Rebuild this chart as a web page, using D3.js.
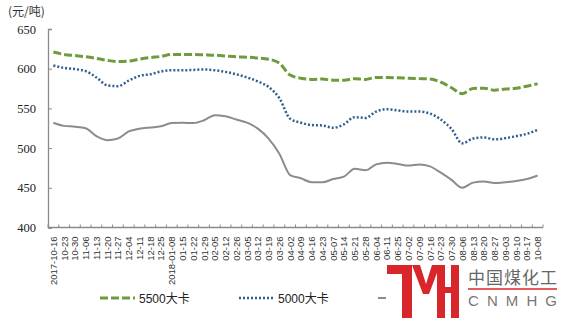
<!DOCTYPE html>
<html>
<head>
<meta charset="utf-8">
<script src="https://cdn.jsdelivr.net/npm/d3@7"></script>
<style>
  body { margin: 0; background: #fff; }
  svg { display: block; }
</style>
</head>
<body>
<div id="chart"></div>
<script>
// weekly dates
const dates = ["2017-10-16","10-23","10-30","11-06","11-13","11-20","11-27","12-04","12-11","12-18","12-25",
  "2018-01-08","01-15","01-22","01-29","02-05","02-12","02-26","03-05","03-12","03-19","03-26",
  "04-02","04-09","04-16","04-23","05-07","05-14","05-21","05-28","06-04","06-11","06-25",
  "07-02","07-09","07-16","07-23","07-30","08-06","08-13","08-20","08-27","09-03","09-10","09-17","10-08"];

const s5500 = [621,618,616.5,615,613,610.5,609,609.5,612,614,615.5,618,618,618,617.5,617,616,615,614.5,613.5,612,607,
  592,588,586.5,587,585.5,585.5,587.5,586.5,589,589,588.5,588,587.5,587,583,576,568.5,575,575.5,573,574.5,575.5,578,581];
const s5000 = [604,601,599.5,597,589,579,578,585,591,593,596.5,598,598,598.5,599,598,596,593,589,584,577,563,
  537,532,529,528.5,525.5,530,539,538,546,549,547.5,546,546,543.5,536,524,506,512,513.5,511,512.5,515,518,523];
const s4500 = [532,528,527,525,515,510,512,521,524.5,526,527.5,531.5,532,531.5,535,541.5,540,536,532,524.5,512,493,
  466,462,457,457,461,464,474,472,479.5,481.5,480,478,479.5,477,469,460,450,456.5,458,456,457,458.5,461,465.5];

const yTicks = [400,450,500,550,600,650];

const series = [
  {name: "5500大卡", values: s5500, color: "#6e9b3c", dash: "8,3", width: 3},
  {name: "5000大卡", values: s5000, color: "#2f5f8f", dash: "2,2", width: 2.5},
  {name: "4500大卡", values: s4500, color: "#8c8c8c", dash: null, width: 2}
];

const W = 562, H = 318;
const svg = d3.select("#chart").append("svg").attr("width", W).attr("height", H);

const x = d3.scaleBand().domain(dates).range([48, 543]);
const y = d3.scaleLinear().domain([400, 650]).range([227.5, 29]);
const axisColor = "#8a8a8a";

// unit
svg.append("text").attr("x", 8).attr("y", 16)
   .style("font-family", "'Noto Sans CJK SC', sans-serif").style("font-size", "12px").attr("fill", "#333")
   .text("(元/吨)");

// y axis
const yAxis = svg.append("g").attr("transform", "translate(48,0)")
   .call(d3.axisLeft(y).tickValues(yTicks).tickSize(-4).tickPadding(12));
yAxis.select(".domain").attr("stroke", axisColor).attr("stroke-width", 1.3);
yAxis.selectAll(".tick line").attr("stroke", axisColor);
yAxis.selectAll("text").style("font-family", "'Liberation Serif', serif").style("font-size", "12.5px").attr("fill", "#222");

// x axis: ticks between categories
const xg = svg.append("g").attr("transform", "translate(0,227.5)");
xg.append("line").attr("x1", 48).attr("x2", 543).attr("stroke", axisColor).attr("stroke-width", 1.3);
xg.selectAll(".xt").data(d3.range(dates.length + 1)).enter().append("line")
  .attr("x1", i => 48 + i * x.step()).attr("x2", i => 48 + i * x.step())
  .attr("y1", 0).attr("y2", -3).attr("stroke", axisColor);
xg.selectAll(".xl").data(dates).enter().append("text")
  .attr("transform", d => `translate(${x(d) + x.bandwidth() / 2 + 3.5},9) rotate(-90)`)
  .attr("text-anchor", "end")
  .style("font-family", "'Liberation Sans', sans-serif").style("font-size", "9.5px").attr("fill", "#333")
  .text(d => d);

// lines
const line = d3.line()
  .x((d, i) => x(dates[i]) + x.bandwidth() / 2)
  .y(d => y(d))
  .curve(d3.curveMonotoneX);

series.forEach(s => {
  svg.append("path").datum(s.values)
    .attr("d", line).attr("fill", "none")
    .attr("stroke", s.color).attr("stroke-width", s.width)
    .attr("stroke-dasharray", s.dash);
});

// legend
const legX = [100, 239, 378];
series.forEach((s, i) => {
  svg.append("line").attr("x1", legX[i]).attr("x2", legX[i] + 35).attr("y1", 298).attr("y2", 298)
    .attr("stroke", s.color).attr("stroke-width", s.width).attr("stroke-dasharray", s.dash);
  svg.append("text").attr("x", legX[i] + 39).attr("y", 302.5)
    .style("font-family", "'Liberation Sans', 'Noto Sans CJK SC', sans-serif").style("font-size", "12px").attr("fill", "#222")
    .text(s.name);
});

// logo watermark
const logo = svg.append("g");
logo.append("rect").attr("x", 386).attr("y", 262).attr("width", 176).attr("height", 56).attr("fill", "#fff");
const red = "#d9262b";
logo.append("rect").attr("x", 387).attr("y", 265).attr("width", 25).attr("height", 9).attr("fill", red);
logo.append("rect").attr("x", 402).attr("y", 265).attr("width", 10).attr("height", 53).attr("fill", red);
logo.append("path").attr("d", "M412,265 L420,265 L426,284 L432,265 L440,265 L429,294 L423,294 Z").attr("fill", red);
logo.append("rect").attr("x", 437).attr("y", 265).attr("width", 8).attr("height", 53).attr("fill", red);
logo.append("rect").attr("x", 445).attr("y", 287).attr("width", 6).attr("height", 6).attr("fill", red);
logo.append("rect").attr("x", 451).attr("y", 265).attr("width", 8).attr("height", 53).attr("fill", red);
logo.append("text").attr("x", 468).attr("y", 284).attr("textLength", 89)
  .style("font-family", "'Noto Sans CJK SC', sans-serif").style("font-size", "17px").attr("fill", "#666")
  .text("中国煤化工");
logo.append("line").attr("x1", 468).attr("x2", 557).attr("y1", 289).attr("y2", 289).attr("stroke", red).attr("stroke-width", 1.5);
logo.append("text").attr("x", 468).attr("y", 306).attr("textLength", 89)
  .style("font-family", "'Liberation Sans', sans-serif").style("font-size", "15px").attr("fill", "#777")
  .text("CNMHG");
</script>
</body>
</html>
